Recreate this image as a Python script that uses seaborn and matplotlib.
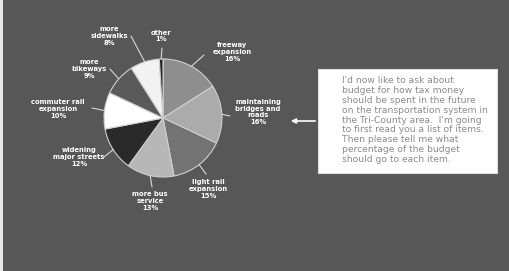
import numpy as np
import matplotlib
matplotlib.use("Agg")
import matplotlib.pyplot as plt
import seaborn as sns

# data
items = ['freeway\nexpansion', 'maintaining\nbridges and\nroads', 'light rail\nexpansion',
         'more bus\nservice', 'widening\nmajor streets', 'commuter rail\nexpansion',
         'more\nbikeways', 'more\nsidewalks', 'other']
shares = [16, 16, 15, 13, 12, 10, 9, 8, 1]
grays = ['#8e8e8e', '#ababab', '#737373', '#b7b7b7', '#2a2a2a', '#ffffff',
         '#595959', '#f2f2f2', '#262626']
# label anchor (pixel coords, y from top)
label_xy = [(232, 52), (258, 112), (208, 189), (150, 201), (79, 157),
            (58, 109), (89, 69), (109, 36), (161, 36)]
line_end = [(204, 55), (230, 116), (206, 174), (152, 187), (104, 157),
            (92, 108), (110, 69), (131, 36), (162, 48)]
question = ("I'd now like to ask about\nbudget for how tax money\nshould be spent in the future\n"
            "on the transportation system in\nthe Tri-County area.  I'm going\n"
            "to first read you a list of items.\nThen please tell me what\n"
            "percentage of the budget\nshould go to each item.")

sns.set_style("dark")
plt.rcParams['font.family'] = ['DejaVu Sans']

W, H = 510, 271
fig = plt.figure(figsize=(5.1, 2.71), dpi=100)
fig.patch.set_facecolor('#575757')
ax = fig.add_axes([0, 0, 1, 1])
ax.set_facecolor('#575757')

cx, cy, r = 163, H - 118, 59
wedges, _ = ax.pie(shares, colors=grays, startangle=90, counterclock=False,
                   center=(cx, cy), radius=r, frame=True,
                   wedgeprops=dict(edgecolor='#cfcfcf', linewidth=0.8))
ax.set_xlim(0, W)
ax.set_ylim(0, H)
ax.set_aspect('equal')
ax.axis('off')

# leader lines + labels
for w, name, s, (lx, ly), (ex, ey) in zip(wedges, items, shares, label_xy, line_end):
    ang = np.deg2rad((w.theta1 + w.theta2) / 2)
    px, py = cx + r * np.cos(ang), cy + r * np.sin(ang)
    ax.plot([px, ex], [py, H - ey], color='#d8d8d8', lw=0.8)
    ax.text(lx, H - ly, f"{name}\n{s}%", ha='center', va='center', color='white',
            fontsize=4.9, fontweight='bold', linespacing=1.15)

# question box
ax.add_patch(plt.Rectangle((318, H - 173), 179, 104, facecolor='white',
                           edgecolor='#dddddd', lw=0.8))
ax.text(342, H - 120, question, ha='left', va='center', color='#8a8a8a',
        fontsize=6.6, linespacing=1.14)
ax.annotate('', xy=(288, H - 121), xytext=(318, H - 121),
            arrowprops=dict(arrowstyle='-|>', color='white', lw=1.2,
                            mutation_scale=7))

# light strip at left edge of the scan
ax.add_patch(plt.Rectangle((0, 0), 3, H, facecolor='#e8e8e8', edgecolor='none'))

fig.savefig('out.png', dpi=100, facecolor=fig.get_facecolor())
